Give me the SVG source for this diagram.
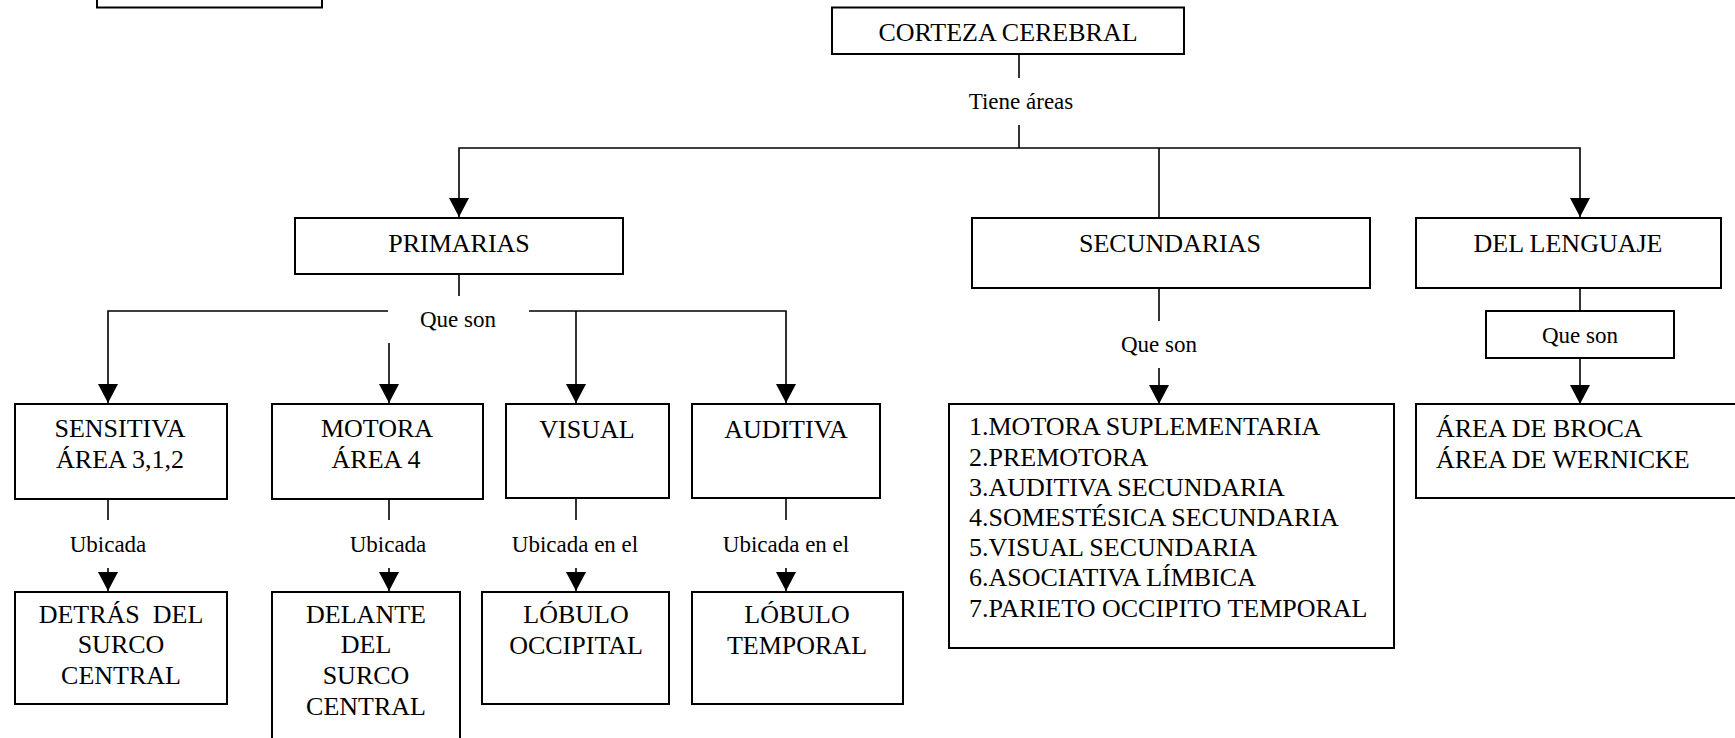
<svg xmlns="http://www.w3.org/2000/svg" width="1735" height="738" viewBox="0 0 1735 738">
  <style>
    .box { fill: #ffffff; stroke: #000000; stroke-width: 2; }
    .wire { fill: none; stroke: #000000; stroke-width: 1.6; }
    .arrow { marker-end: url(#head); }
    text { font-family: "Liberation Serif", "Times New Roman", serif; fill: #000000; }
    .t { font-size: 26px; text-anchor: middle; }
    .tl { font-size: 26px; }
    .lbl { font-size: 23px; text-anchor: middle; }
  </style>
  <defs>
    <marker id="head" markerUnits="userSpaceOnUse" markerWidth="20" markerHeight="20"
            viewBox="0 0 19 20" refX="19" refY="10" orient="auto">
      <path d="M0,0 L19,10 L0,20 Z" fill="#000000"/>
    </marker>
  </defs>

  <rect width="1735" height="738" fill="#ffffff"/>

  <!-- connectors -->
  <g id="connectors">
    <path class="wire" d="M1019,54 V78"/>
    <path class="wire" d="M1019,125 V148"/>
    <path class="wire arrow" d="M1019,148 H459 V217"/>
    <path class="wire arrow" d="M1019,148 H1580 V217"/>
    <path class="wire" d="M1159,148 V218"/>

    <path class="wire" d="M459,274 V296"/>
    <path class="wire arrow" d="M388,311 H108 V403"/>
    <path class="wire arrow" d="M389,343 V403"/>
    <path class="wire arrow" d="M529,311 H786 V403"/>
    <path class="wire arrow" d="M576,311 V403"/>

    <path class="wire" d="M1159,288 V321"/>
    <path class="wire arrow" d="M1159,368 V404"/>
    <path class="wire" d="M1580,288 V311"/>
    <path class="wire arrow" d="M1580,358 V404"/>

    <path class="wire" d="M108,499 V520"/>
    <path class="wire arrow" d="M108,568 V591"/>
    <path class="wire" d="M389,499 V520"/>
    <path class="wire arrow" d="M389,568 V591"/>
    <path class="wire" d="M576,498 V520"/>
    <path class="wire arrow" d="M576,568 V591"/>
    <path class="wire" d="M786,498 V520"/>
    <path class="wire arrow" d="M786,568 V591"/>

    <text class="lbl" x="1021" y="109">Tiene áreas</text>
    <text class="lbl" x="458" y="327">Que son</text>
    <text class="lbl" x="1159" y="352">Que son</text>
    <text class="lbl" x="108" y="552">Ubicada</text>
    <text class="lbl" x="388" y="552">Ubicada</text>
    <text class="lbl" x="575" y="552">Ubicada en el</text>
    <text class="lbl" x="786" y="552">Ubicada en el</text>
  </g>

  <!-- empty frame at the top-left edge -->
  <g id="frame-top-left">
    <rect class="box" x="97" y="-12" width="225" height="19.5"/>
  </g>

  <g id="corteza">
    <rect class="box" x="832" y="7.5" width="352" height="46.5"/>
    <text class="t" x="1008" y="41">CORTEZA CEREBRAL</text>
  </g>

  <g id="primarias">
    <rect class="box" x="295" y="218" width="328" height="56"/>
    <text class="t" x="459" y="252">PRIMARIAS</text>
  </g>

  <g id="secundarias">
    <rect class="box" x="972" y="218" width="398" height="70"/>
    <text class="t" x="1170" y="252">SECUNDARIAS</text>
  </g>

  <g id="lenguaje">
    <rect class="box" x="1416" y="218" width="305" height="70"/>
    <text class="t" x="1568" y="252">DEL LENGUAJE</text>
  </g>

  <g id="lenguaje-que-son">
    <rect class="box" x="1486" y="311" width="188" height="47"/>
    <text class="lbl" x="1580" y="343">Que son</text>
  </g>

  <g id="sensitiva">
    <rect class="box" x="15" y="404" width="212" height="95"/>
    <text class="t" x="120" y="437">SENSITIVA</text>
    <text class="t" x="120" y="468">ÁREA 3,1,2</text>
  </g>

  <g id="motora">
    <rect class="box" x="272" y="404" width="211" height="95"/>
    <text class="t" x="377" y="437">MOTORA</text>
    <text class="t" x="376" y="468">ÁREA 4</text>
  </g>

  <g id="visual">
    <rect class="box" x="506" y="404" width="163" height="94"/>
    <text class="t" x="587" y="438">VISUAL</text>
  </g>

  <g id="auditiva">
    <rect class="box" x="692" y="404" width="188" height="94"/>
    <text class="t" x="786" y="438">AUDITIVA</text>
  </g>

  <g id="detras">
    <rect class="box" x="15" y="592" width="212" height="112"/>
    <text class="t" x="121" y="623">DETRÁS &#160;DEL</text>
    <text class="t" x="121" y="653">SURCO</text>
    <text class="t" x="121" y="684">CENTRAL</text>
  </g>

  <g id="delante">
    <rect class="box" x="272" y="592" width="188" height="160"/>
    <text class="t" x="366" y="623">DELANTE</text>
    <text class="t" x="366" y="653">DEL</text>
    <text class="t" x="366" y="684">SURCO</text>
    <text class="t" x="366" y="715">CENTRAL</text>
  </g>

  <g id="occipital">
    <rect class="box" x="482" y="592" width="187" height="112"/>
    <text class="t" x="576" y="623">LÓBULO</text>
    <text class="t" x="576" y="654">OCCIPITAL</text>
  </g>

  <g id="temporal">
    <rect class="box" x="692" y="592" width="211" height="112"/>
    <text class="t" x="797" y="623">LÓBULO</text>
    <text class="t" x="797" y="654">TEMPORAL</text>
  </g>

  <g id="lista-secundarias">
    <rect class="box" x="949" y="404" width="445" height="244"/>
    <text class="tl" x="969" y="435">1.MOTORA SUPLEMENTARIA</text>
    <text class="tl" x="969" y="466">2.PREMOTORA</text>
    <text class="tl" x="969" y="496">3.AUDITIVA SECUNDARIA</text>
    <text class="tl" x="969" y="526">4.SOMESTÉSICA SECUNDARIA</text>
    <text class="tl" x="969" y="556">5.VISUAL SECUNDARIA</text>
    <text class="tl" x="969" y="586">6.ASOCIATIVA LÍMBICA</text>
    <text class="tl" x="969" y="617">7.PARIETO OCCIPITO TEMPORAL</text>
  </g>

  <g id="areas-lenguaje">
    <rect class="box" x="1416" y="404" width="330" height="94"/>
    <text class="tl" x="1436" y="437">ÁREA DE BROCA</text>
    <text class="tl" x="1436" y="468">ÁREA DE WERNICKE</text>
  </g>
</svg>
